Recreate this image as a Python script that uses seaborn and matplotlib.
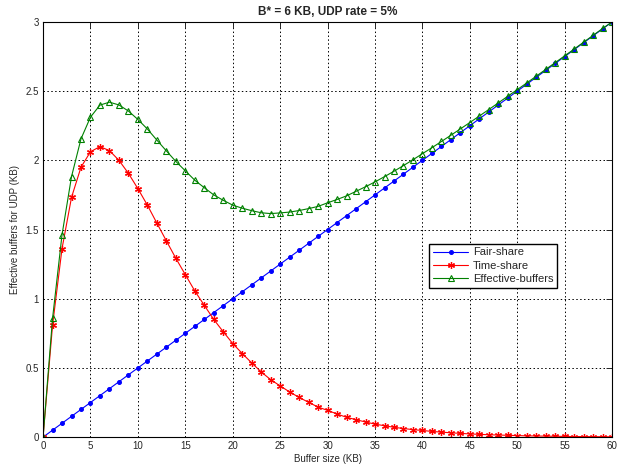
import numpy as np
import pandas as pd
import matplotlib
matplotlib.use("Agg")
import matplotlib.pyplot as plt
import seaborn as sns

# ============================================================
# DATA
# ============================================================

buffer_kb = list(range(0, 61))

fair_share = [
    0.00, 0.05, 0.10, 0.15, 0.20, 0.25, 0.30, 0.35, 0.40, 0.45,
    0.50, 0.55, 0.60, 0.65, 0.70, 0.75, 0.80, 0.85, 0.90, 0.95,
    1.00, 1.05, 1.10, 1.15, 1.20, 1.25, 1.30, 1.35, 1.40, 1.45,
    1.50, 1.55, 1.60, 1.65, 1.70, 1.75, 1.80, 1.85, 1.90, 1.95,
    2.00, 2.05, 2.10, 2.15, 2.20, 2.25, 2.30, 2.35, 2.40, 2.45,
    2.50, 2.55, 2.60, 2.65, 2.70, 2.75, 2.80, 2.85, 2.90, 2.95,
    3.00,
]

time_share = [
    0.000, 0.807, 1.362, 1.732, 1.950, 2.062, 2.099, 2.070, 2.000, 1.906,
    1.795, 1.676, 1.546, 1.418, 1.292, 1.174, 1.056, 0.952, 0.850, 0.761,
    0.676, 0.604, 0.536, 0.471, 0.415, 0.370, 0.326, 0.287, 0.251, 0.217,
    0.193, 0.167, 0.143, 0.126, 0.109, 0.094, 0.082, 0.071, 0.062, 0.054,
    0.048, 0.041, 0.036, 0.031, 0.027, 0.023, 0.020, 0.017, 0.015, 0.013,
    0.011, 0.009, 0.008, 0.007, 0.006, 0.005, 0.004, 0.004, 0.003, 0.003,
    0.002,
]

effective_buffers = [
    0.000, 0.857, 1.462, 1.882, 2.155, 2.312, 2.399, 2.420, 2.400, 2.356,
    2.295, 2.226, 2.146, 2.068, 1.992, 1.924, 1.856, 1.802, 1.750, 1.711,
    1.676, 1.654, 1.636, 1.621, 1.615, 1.620, 1.626, 1.637, 1.651, 1.667,
    1.693, 1.717, 1.743, 1.776, 1.809, 1.844, 1.882, 1.921, 1.962, 2.004,
    2.048, 2.091, 2.136, 2.181, 2.227, 2.273, 2.320, 2.367, 2.415, 2.463,
    2.511, 2.559, 2.608, 2.657, 2.706, 2.755, 2.804, 2.854, 2.903, 2.953,
    3.000,
]

x_ticks = list(range(0, 61, 5))
y_ticks = [0, 0.5, 1, 1.5, 2, 2.5, 3]
y_tick_labels = ["0", "0.5", "1", "1.5", "2", "2.5", "3"]

# ============================================================
# STYLE
# ============================================================

sns.set_style("white")
plt.rcParams["font.family"] = ["Liberation Sans", "DejaVu Sans"]

fig, ax = plt.subplots(figsize=(6.24, 4.66), dpi=100)
fig.subplots_adjust(left=0.069, right=0.981, top=0.953, bottom=0.062)

# ============================================================
# PLOT
# ============================================================

sns.lineplot(
    x=buffer_kb, y=fair_share, ax=ax,
    color="#0000ff", linewidth=0.8,
    marker="o", markersize=2.8,
    markerfacecolor="#0000ff", markeredgecolor="#0000ff",
    label="Fair-share"
)

# asterisk marker like MATLAB '*'
sns.lineplot(
    x=buffer_kb, y=time_share, ax=ax,
    color="#ff0000", linewidth=0.8,
    marker=(6, 2, 0), markersize=5,
    markerfacecolor="#ff0000", markeredgecolor="#ff0000",
    markeredgewidth=0.9,
    label="Time-share"
)

sns.lineplot(
    x=buffer_kb, y=effective_buffers, ax=ax,
    color="#008000", linewidth=0.8,
    marker="^", markersize=4.5,
    markerfacecolor="none", markeredgecolor="#008000",
    markeredgewidth=0.8,
    label="Effective-buffers"
)

# ============================================================
# AXES
# ============================================================

ax.set_xlim(0, 60)
ax.set_ylim(0, 3)
ax.set_xticks(x_ticks)
ax.set_yticks(y_ticks)
ax.set_yticklabels(y_tick_labels)

ax.grid(True, color="black", linestyle=(0, (1.5, 2.5)), linewidth=0.7)
ax.tick_params(
    direction="in", length=4, width=0.7, labelsize=7,
    top=True, right=True, pad=3
)
for spine in ax.spines.values():
    spine.set_color("black")
    spine.set_linewidth(0.8)

ax.set_xlabel("Buffer size (KB)", fontsize=7, labelpad=2)
ax.set_ylabel("Effective buffers for UDP (KB)", fontsize=7, labelpad=4)
ax.set_title("B* = 6 KB, UDP rate = 5%", fontsize=8.5, fontweight="bold", pad=5)

leg = ax.legend(
    loc="lower left", bbox_to_anchor=(0.678, 0.359), borderaxespad=0,
    fontsize=8, frameon=True, fancybox=False, shadow=False,
    handlelength=3.2, borderpad=0.35, labelspacing=0.3, handletextpad=0.4,
    framealpha=1
)
leg.get_frame().set_edgecolor("black")
leg.get_frame().set_linewidth(1.0)

plt.savefig("out.png", dpi=100)
